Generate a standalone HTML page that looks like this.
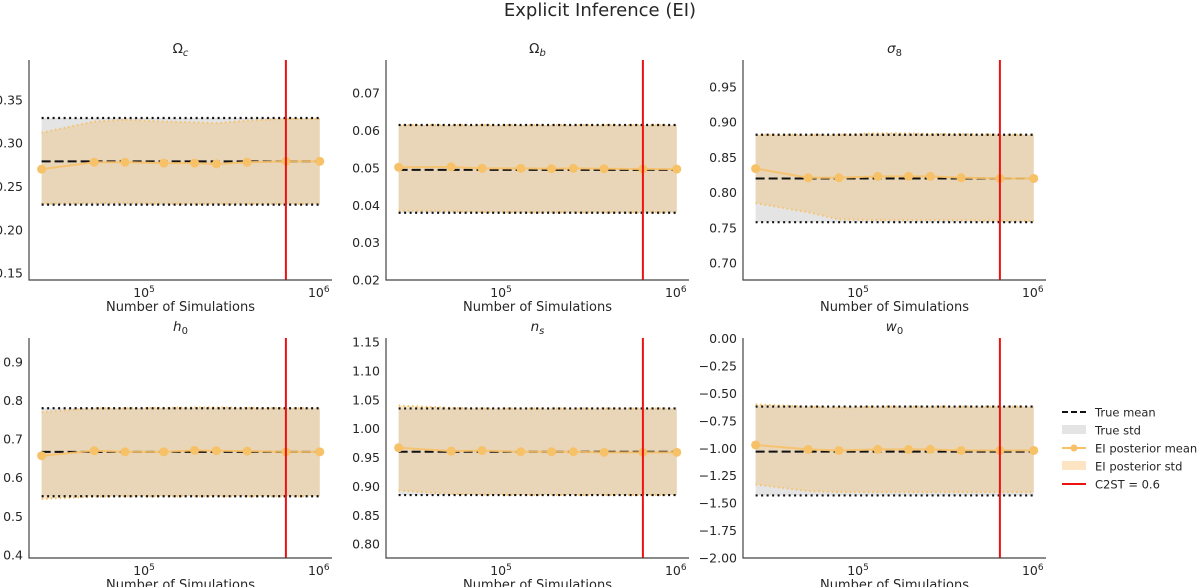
<!DOCTYPE html>
<html><head><meta charset="utf-8"><style>
html,body{margin:0;padding:0;background:#fff;}
svg{display:block;font-family:"DejaVu Sans","Liberation Sans",sans-serif;}
</style></head><body>
<svg id="fig" width="1200" height="587" viewBox="0 0 1200 587" xmlns="http://www.w3.org/2000/svg">
<text x="600" y="16" text-anchor="middle" font-size="18" fill="#262626">Explicit Inference (EI)</text>
<g id="panels"></g>
<g id="legend"></g>
</svg>
<script>
// shared x data (number of simulations)
const nSims = [25600, 51200, 76800, 128000, 192000, 256000, 384000, 640000, 1000000];
const c2stX = 640000;
const xTickVals = [100000, 1000000];
const xTickLabels = ["5", "6"];

// panel names
const titles = ["Ω_c", "Ω_b", "σ_8", "h_0", "n_s", "w_0"];
const titleMain = ["Ω", "Ω", "σ", "h", "n", "w"];
const titleSub = ["c", "b", "8", "0", "s", "0"];
const yMins = [0.142, 0.02, 0.676, 0.392, 0.776, -2.0];
const yMaxs = [0.396, 0.0789, 0.988, 0.962, 1.157, 0.005];
const yTicks0 = [0.15, 0.20, 0.25, 0.30, 0.35];
const yTicks1 = [0.02, 0.03, 0.04, 0.05, 0.06, 0.07];
const yTicks2 = [0.70, 0.75, 0.80, 0.85, 0.90, 0.95];
const yTicks3 = [0.4, 0.5, 0.6, 0.7, 0.8, 0.9];
const yTicks4 = [0.80, 0.85, 0.90, 0.95, 1.00, 1.05, 1.10, 1.15];
const yTicks5 = [-2.00, -1.75, -1.50, -1.25, -1.00, -0.75, -0.50, -0.25, 0.00];
const yDecimals = [2, 2, 2, 1, 2, 2];

// true values
const trueMean = [0.279, 0.0495, 0.820, 0.667, 0.960, -1.03];
const trueLo = [0.229, 0.0380, 0.758, 0.552, 0.885, -1.43];
const trueHi = [0.329, 0.0615, 0.882, 0.780, 1.035, -0.62];

// EI posterior mean
const eiMean0 = [0.270, 0.278, 0.278, 0.277, 0.277, 0.276, 0.278, 0.279, 0.279];
const eiMean1 = [0.0502, 0.0503, 0.0499, 0.0499, 0.0498, 0.0499, 0.0498, 0.0497, 0.0497];
const eiMean2 = [0.834, 0.821, 0.821, 0.823, 0.823, 0.823, 0.821, 0.820, 0.820];
const eiMean3 = [0.657, 0.670, 0.667, 0.667, 0.671, 0.670, 0.669, 0.667, 0.667];
const eiMean4 = [0.967, 0.961, 0.962, 0.960, 0.960, 0.960, 0.959, 0.959, 0.959];
const eiMean5 = [-0.97, -1.01, -1.02, -1.01, -1.01, -1.01, -1.02, -1.02, -1.02];
// EI posterior upper bound
const eiHi0 = [0.312, 0.325, 0.327, 0.325, 0.324, 0.323, 0.326, 0.328, 0.328];
const eiHi1 = [0.0615, 0.0615, 0.0615, 0.0615, 0.0615, 0.0615, 0.0615, 0.0615, 0.0615];
const eiHi2 = [0.882, 0.882, 0.882, 0.884, 0.884, 0.883, 0.883, 0.882, 0.882];
const eiHi3 = [0.770, 0.780, 0.780, 0.781, 0.782, 0.782, 0.781, 0.780, 0.780];
const eiHi4 = [1.040, 1.036, 1.035, 1.035, 1.035, 1.035, 1.035, 1.035, 1.035];
const eiHi5 = [-0.60, -0.62, -0.63, -0.62, -0.62, -0.62, -0.62, -0.62, -0.62];
// EI posterior lower bound
const eiLo0 = [0.230, 0.231, 0.231, 0.230, 0.230, 0.230, 0.230, 0.230, 0.230];
const eiLo1 = [0.0386, 0.0384, 0.0382, 0.0381, 0.0381, 0.0381, 0.0381, 0.0381, 0.0381];
const eiLo2 = [0.785, 0.772, 0.762, 0.761, 0.761, 0.761, 0.761, 0.760, 0.760];
const eiLo3 = [0.545, 0.551, 0.552, 0.552, 0.552, 0.552, 0.552, 0.552, 0.552];
const eiLo4 = [0.893, 0.887, 0.886, 0.885, 0.885, 0.885, 0.885, 0.885, 0.885];
const eiLo5 = [-1.33, -1.39, -1.40, -1.40, -1.40, -1.40, -1.40, -1.40, -1.40];

const yTicksAll = [yTicks0, yTicks1, yTicks2, yTicks3, yTicks4, yTicks5];
const eiMeanAll = [eiMean0, eiMean1, eiMean2, eiMean3, eiMean4, eiMean5];
const eiHiAll = [eiHi0, eiHi1, eiHi2, eiHi3, eiHi4, eiHi5];
const eiLoAll = [eiLo0, eiLo1, eiLo2, eiLo3, eiLo4, eiLo5];

const NS = "http://www.w3.org/2000/svg";
const panelsG = document.getElementById("panels");
const colLeft = [29, 386, 743];
const rowTop = [60, 338];
const W = 303, H = 220;
const xLogMin = 4.336, xLogMax = 6.07;
const ORANGE = "#f7c168";

function mk(tag, attrs, parent) {
  const e = document.createElementNS(NS, tag);
  for (const k in attrs) e.setAttribute(k, attrs[k]);
  parent.appendChild(e);
  return e;
}

for (let p = 0; p < 6; p++) {
  const L = colLeft[p % 3], T = rowTop[Math.floor(p / 3)];
  const yMin = yMins[p], yMax = yMaxs[p];
  const xs = v => L + (Math.log10(v) - xLogMin) / (xLogMax - xLogMin) * W;
  const ys = v => T + H - (v - yMin) / (yMax - yMin) * H;
  const g = mk("g", {}, panelsG);
  
  

  const x0 = xs(nSims[0]), x1 = xs(nSims[nSims.length - 1]);
  const tb = mk("rect", {x: x0, y: ys(trueHi[p]), width: x1 - x0, height: ys(trueLo[p]) - ys(trueHi[p]), fill: "#e4e4e4"}, g);
  
  
  let d = "";
  nSims.forEach((n, i) => { d += (i ? "L" : "M") + xs(n) + "," + ys(eiHiAll[p][i]); });
  for (let i = nSims.length - 1; i >= 0; i--) d += "L" + xs(nSims[i]) + "," + ys(eiLoAll[p][i]);
  const eb = mk("path", {d: d + "Z", fill: "rgba(240,188,105,0.36)"}, g);
  
  
  [eiHiAll[p], eiLoAll[p]].forEach((arr, k) => {
    const pts = nSims.map((n, i) => xs(n) + "," + ys(arr[i])).join(" ");
    const pl = mk("polyline", {points: pts, fill: "none", stroke: ORANGE, "stroke-width": 2, "stroke-dasharray": "1.5 3"}, g);
    
    
  });
  [trueHi[p], trueLo[p]].forEach((v, k) => {
    const ln = mk("line", {x1: x0, x2: x1, y1: ys(v), y2: ys(v), stroke: "#111", "stroke-width": 2.2, "stroke-dasharray": "2 3.5"}, g);
    
    
  });
  const tm = mk("line", {x1: x0, x2: x1, y1: ys(trueMean[p]), y2: ys(trueMean[p]), stroke: "#111", "stroke-width": 2, "stroke-dasharray": "9 4"}, g);
  
  
  const mpts = nSims.map((n, i) => xs(n) + "," + ys(eiMeanAll[p][i])).join(" ");
  const ml = mk("polyline", {points: mpts, fill: "none", stroke: ORANGE, "stroke-width": 2, opacity: 0.9}, g);
  
  
  nSims.forEach((n, i) => {
    const c = mk("circle", {cx: xs(n), cy: ys(eiMeanAll[p][i]), r: 4.5, fill: ORANGE}, g);
    
    
  });
  const rl = mk("line", {x1: xs(c2stX), x2: xs(c2stX), y1: T, y2: T + H, stroke: "#ee1111", "stroke-width": 2}, g);
  
  
  const sp = mk("path", {d: `M${L},${T}V${T + H}H${L + W}`, fill: "none", stroke: "#444", "stroke-width": 1.2}, g);
  
  
  yTicksAll[p].forEach(v => {
    const t = mk("text", {x: L - 6, y: ys(v) + 4.5, "text-anchor": "end", "font-size": 12.5, fill: "#262626"}, g);
    t.textContent = (v < 0 ? "\u2212" : "") + Math.abs(v).toFixed(yDecimals[p]);
    
    
  });
  xTickVals.forEach((v, i) => {
    const t = mk("text", {x: xs(v) - 1, y: T + H + 17, "text-anchor": "middle", "font-size": 12.5, fill: "#262626"}, g);
    t.textContent = "10";
    const s = mk("tspan", {dy: -5, "font-size": 9}, t);
    s.textContent = xTickLabels[i];
    
    
  });
  const xl = mk("text", {x: L + W / 2, y: T + H + 31, "text-anchor": "middle", "font-size": 13, fill: "#262626"}, g);
  xl.textContent = "Number of Simulations";
  
  
  const tt = mk("text", {x: L + W / 2, y: T - 7, "text-anchor": "middle", "font-size": 13.5, fill: "#262626"}, g);
  const tm1 = mk("tspan", {"font-style": p >= 2 ? "italic" : "normal"}, tt);
  tm1.textContent = titleMain[p];
  const ts = mk("tspan", {dy: 3, "font-size": 10, "font-style": (p === 0 || p === 1 || p === 4) ? "italic" : "normal"}, tt);
  ts.textContent = titleSub[p];
  
  
}

const lg = document.getElementById("legend");
const legLabels = ["True mean", "True std", "EI posterior mean", "EI posterior std", "C2ST = 0.6"];
const legY = [412, 430, 448, 466, 484];
legLabels.forEach((lab, i) => {
  const y = legY[i];
  const e = mk("g", {}, lg);
  
  
  if (i === 0) mk("line", {x1: 1062, x2: 1086, y1: y, y2: y, stroke: "#111", "stroke-width": 2, "stroke-dasharray": "6 3"}, e);
  if (i === 1) mk("rect", {x: 1062, y: y - 5, width: 24, height: 9, fill: "#e4e4e4"}, e);
  if (i === 2) { mk("line", {x1: 1062, x2: 1086, y1: y, y2: y, stroke: ORANGE, "stroke-width": 2}, e); mk("circle", {cx: 1074, cy: y, r: 3.5, fill: ORANGE}, e); }
  if (i === 3) mk("rect", {x: 1062, y: y - 5, width: 24, height: 9, fill: "#fde5c3"}, e);
  if (i === 4) mk("line", {x1: 1062, x2: 1086, y1: y, y2: y, stroke: "#ee1111", "stroke-width": 2}, e);
  const t = mk("text", {x: 1095, y: y + 4.5, "font-size": 11.5, fill: "#262626"}, e);
  t.textContent = lab;
});
</script>
</body></html>
